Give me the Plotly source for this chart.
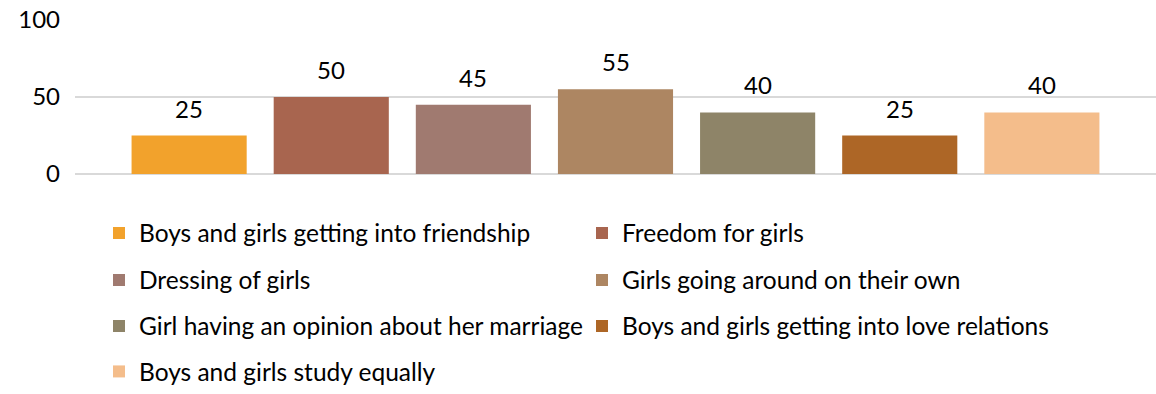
import plotly.graph_objects as go

categories = [
    "Boys and girls getting into friendship",
    "Freedom for girls",
    "Dressing of girls",
    "Girls going around on their own",
    "Girl having an opinion about her marriage",
    "Boys and girls getting into love relations",
    "Boys and girls study equally",
]
values = [25, 50, 45, 55, 40, 25, 40]
colors = ["#F2A22C", "#A8654F", "#A07A70", "#AD8662", "#8E8468", "#AD6626", "#F4BD8B"]
y_ticks = [0, 50, 100]

FONT = "Lato"
FS = 24
LEG_FS = 24.5

top, bottom = 20, 174
h = bottom - top
plot_left, plot_w = 75, 1081

def paper_y(py):
    return (bottom - py) / h

def paper_x(px):
    return (px - plot_left) / plot_w

# legend grid: two columns, four rows (pixel anchors)
col_x = [99, 582]
row_y = [233, 280, 326, 372]

fig = go.Figure()
legends = {}
for i, (cat, val, col) in enumerate(zip(categories, values, colors)):
    lname = "legend" if i == 0 else f"legend{i + 1}"
    fig.add_trace(go.Bar(
        x=[i], y=[val], name=cat, marker=dict(color=col, line=dict(width=0)),
        width=0.81, legend=lname, showlegend=True,
    ))
    fig.add_annotation(x=i, y=val, text=str(val), showarrow=False, yanchor="bottom",
                       yshift=11, font=dict(family=FONT, size=FS, color="#000000"))
    legends[lname] = dict(
        orientation="v", x=paper_x(col_x[i % 2]), y=paper_y(row_y[i // 2]),
        xanchor="left", yanchor="middle",
        font=dict(family=FONT, size=LEG_FS, color="#000000"),
        bgcolor="rgba(0,0,0,0)", itemclick=False, itemdoubleclick=False,
    )

fig.update_layout(
    width=1156, height=394,
    margin=dict(l=plot_left, r=0, t=top, b=394 - bottom),
    paper_bgcolor="white", plot_bgcolor="white",
    barmode="overlay",
    showlegend=True,
    xaxis=dict(range=[-0.803, 6.803], showticklabels=False, showgrid=False,
               zeroline=False, showline=False, ticks=""),
    yaxis=dict(range=[0, 100], tickvals=y_ticks, showgrid=True, gridcolor="#D9D9D9",
               gridwidth=2, zeroline=True, zerolinecolor="#D9D9D9", zerolinewidth=2,
               showline=False, ticks="", ticklabelstandoff=14,
               tickfont=dict(family=FONT, size=FS, color="#000000")),
    **legends,
)

fig.write_html("out.html")
